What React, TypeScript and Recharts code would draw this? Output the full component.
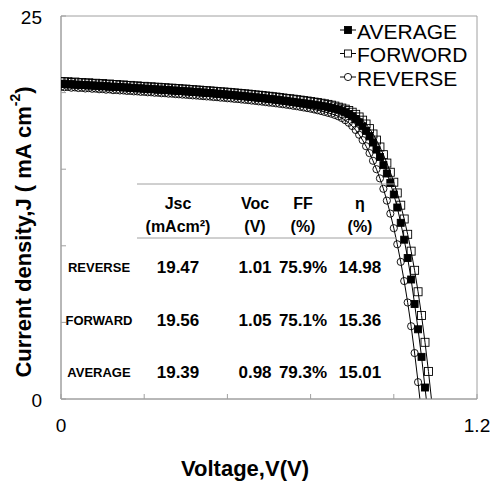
import React from 'react'
import { LineChart, Line, XAxis, YAxis, ReferenceArea } from 'recharts'

const FONT = '"Liberation Sans", Arial, sans-serif'
const AXIS_GREY = '#a0a0a0'

// voltage steps (V)
const volt = [
  0.0, 0.01, 0.02, 0.03, 0.04, 0.05, 0.06, 0.07, 0.08, 0.09,
  0.1, 0.11, 0.12, 0.13, 0.14, 0.15, 0.16, 0.17, 0.18, 0.19,
  0.2, 0.21, 0.22, 0.23, 0.24, 0.25, 0.26, 0.27, 0.28, 0.29,
  0.3, 0.31, 0.32, 0.33, 0.34, 0.35, 0.36, 0.37, 0.38, 0.39,
  0.4, 0.41, 0.42, 0.43, 0.44, 0.45, 0.46, 0.47, 0.48, 0.49,
  0.5, 0.51, 0.52, 0.53, 0.54, 0.55, 0.56, 0.57, 0.58, 0.59,
  0.6, 0.61, 0.62, 0.63, 0.64, 0.65, 0.66, 0.67, 0.68, 0.69,
  0.7, 0.71, 0.72, 0.73, 0.74, 0.75, 0.76, 0.77, 0.78, 0.79,
  0.8, 0.81, 0.82, 0.83, 0.84, 0.85, 0.86, 0.87, 0.88, 0.89,
  0.9, 0.91, 0.92, 0.93, 0.94, 0.95, 0.96, 0.97, 0.98, 0.99,
  1.0, 1.01, 1.02, 1.03, 1.04, 1.05, 1.06, 1.07,
]

// current density (mA cm-2)
const averageJ = [
  20.56, 20.58, 20.53, 20.55, 20.51, 20.52, 20.49, 20.5, 20.46, 20.47,
  20.44, 20.45, 20.41, 20.42, 20.38, 20.39, 20.36, 20.37, 20.33, 20.34,
  20.3, 20.31, 20.27, 20.28, 20.25, 20.25, 20.22, 20.22, 20.19, 20.2,
  20.16, 20.17, 20.13, 20.14, 20.1, 20.11, 20.07, 20.08, 20.04, 20.05,
  20.01, 20.01, 19.98, 19.97, 19.95, 19.93, 19.91, 19.89, 19.87, 19.85,
  19.83, 19.8, 19.79, 19.76, 19.74, 19.72, 19.69, 19.67, 19.64, 19.62,
  19.59, 19.57, 19.54, 19.51, 19.48, 19.45, 19.42, 19.39, 19.36, 19.33,
  19.3, 19.27, 19.24, 19.21, 19.17, 19.14, 19.1, 19.05, 19.0, 18.95,
  18.9, 18.82, 18.72, 18.6, 18.46, 18.28, 18.06, 17.8, 17.5, 17.14,
  16.74, 16.28, 15.8, 15.27, 14.72, 14.1, 13.35, 12.5, 11.5, 10.4,
  9.2, 7.8, 6.2, 4.55, 2.75, 0.75, -1.3, null,
]
const forwardJ = [
  20.72, 20.7, 20.71, 20.66, 20.69, 20.64, 20.66, 20.62, 20.64, 20.6,
  20.61, 20.57, 20.59, 20.54, 20.56, 20.52, 20.53, 20.49, 20.5, 20.46,
  20.47, 20.43, 20.44, 20.4, 20.41, 20.37, 20.38, 20.35, 20.35, 20.32,
  20.32, 20.29, 20.29, 20.26, 20.26, 20.23, 20.23, 20.2, 20.19, 20.17,
  20.16, 20.14, 20.12, 20.11, 20.09, 20.07, 20.05, 20.04, 20.02, 20.0,
  19.98, 19.96, 19.94, 19.92, 19.9, 19.88, 19.85, 19.83, 19.81, 19.78,
  19.76, 19.73, 19.71, 19.68, 19.65, 19.62, 19.6, 19.57, 19.54, 19.51,
  19.48, 19.45, 19.42, 19.38, 19.35, 19.31, 19.27, 19.23, 19.18, 19.12,
  19.05, 18.99, 18.92, 18.83, 18.72, 18.58, 18.41, 18.2, 17.95, 17.65,
  17.3, 16.9, 16.45, 15.95, 15.4, 14.8, 14.15, 13.45, 12.65, 11.75,
  10.75, 9.65, 8.4, 7.0, 5.45, 3.7, 1.8, -0.3,
]
const reverseJ = [
  20.38, 20.35, 20.37, 20.32, 20.34, 20.3, 20.31, 20.27, 20.29, 20.25,
  20.26, 20.22, 20.23, 20.19, 20.21, 20.16, 20.17, 20.14, 20.14, 20.11,
  20.11, 20.08, 20.08, 20.05, 20.05, 20.02, 20.02, 19.99, 19.99, 19.96,
  19.96, 19.93, 19.93, 19.9, 19.89, 19.87, 19.86, 19.84, 19.82, 19.81,
  19.79, 19.77, 19.75, 19.74, 19.71, 19.7, 19.67, 19.66, 19.63, 19.62,
  19.59, 19.58, 19.55, 19.53, 19.51, 19.48, 19.46, 19.43, 19.41, 19.38,
  19.35, 19.33, 19.3, 19.27, 19.24, 19.21, 19.18, 19.14, 19.11, 19.07,
  19.03, 18.99, 18.95, 18.9, 18.85, 18.8, 18.74, 18.68, 18.62, 18.54,
  18.45, 18.34, 18.2, 18.03, 17.82, 17.56, 17.25, 16.9, 16.5, 16.05,
  15.55, 15.0, 14.4, 13.72, 12.95, 12.1, 11.15, 10.1, 8.95, 7.7,
  6.3, 4.75, 3.0, 1.1, -1.0, null, null, null,
]

const xTicks = [0, 0.24, 0.48, 0.72, 0.96, 1.2]
const xLabels = ['0', '', '', '', '', '1.2']
const yTicks = [0, 5, 10, 15, 20, 25]
const yLabels = ['0', '', '', '', '', '25']

const seriesNames = ['AVERAGE', 'FORWORD', 'REVERSE']

// inset table
const tableHeads = [['Jsc', '(mAcm²)'], ['Voc', '(V)'], ['FF', '(%)'], ['η', '(%)']]
const tableRows = ['REVERSE', 'FORWARD', 'AVERAGE']
const jscVals = ['19.47', '19.56', '19.39']
const vocVals = ['1.01', '1.05', '0.98']
const ffVals = ['75.9%', '75.1%', '79.3%']
const etaVals = ['14.98', '15.36', '15.01']

const data = volt.map((v, i) => ({
  v,
  avg: averageJ[i],
  fwd: forwardJ[i],
  rev: reverseJ[i],
}))

function makeDot(kind: string) {
  return (p: any) => {
    const { cx, cy, index } = p
    if (cx == null || cy == null || p.value == null) return <g key={index} />
    if (kind === 'circle') {
      return <circle key={index} cx={cx} cy={cy} r={3.6} fill="none" stroke="#000" strokeWidth={0.9} />
    }
    const s = kind === 'filled' ? 7 : 8
    return (
      <rect
        key={index}
        x={cx - s / 2}
        y={cy - s / 2}
        width={s}
        height={s}
        fill={kind === 'filled' ? '#000' : 'none'}
        stroke="#000"
        strokeWidth={0.9}
      />
    )
  }
}

const XTick = (p: any) => {
  const { x, y, index } = p
  return (
    <g>
      <line x1={x} y1={y} x2={x} y2={y - 5} stroke={AXIS_GREY} />
      <text x={x} y={y + 26} textAnchor="middle" dominantBaseline="central" fontSize={19} fontFamily={FONT} fill="#000">
        {xLabels[index]}
      </text>
    </g>
  )
}

const YTick = (p: any) => {
  const { x, y, index } = p
  return (
    <g>
      <line x1={x} y1={y} x2={x + 5} y2={y} stroke={AXIS_GREY} />
      <text x={x - 19} y={y + 1} textAnchor="end" dominantBaseline="central" fontSize={19} fontFamily={FONT} fill="#000">
        {yLabels[index]}
      </text>
    </g>
  )
}

function LegendMark({ kind, x, y }: { kind: string; x: number; y: number }) {
  return (
    <g>
      <line x1={x - 8} y1={y} x2={x + 8} y2={y} stroke="#000" strokeWidth={1} />
      {kind === 'circle' ? (
        <circle cx={x} cy={y} r={3.6} fill="#fff" stroke="#000" strokeWidth={0.9} />
      ) : (
        <rect
          x={x - 3.5}
          y={y - 3.5}
          width={7}
          height={7}
          fill={kind === 'filled' ? '#000' : '#fff'}
          stroke="#000"
          strokeWidth={0.9}
        />
      )}
    </g>
  )
}

const colX = [178, 255, 303, 360]
const rowY = [267, 320, 372]
const dotKinds = ['filled', 'open', 'circle']

export default function App() {
  return (
    <div style={{ position: 'absolute', left: 0, top: 0, width: 495, height: 481, background: '#fff' }}>
      <LineChart width={495} height={481} data={data} margin={{ top: 16, right: 18, bottom: 42, left: 16 }}>
        <XAxis
          dataKey="v"
          type="number"
          domain={[0, 1.2]}
          ticks={xTicks}
          allowDataOverflow
          stroke={AXIS_GREY}
          tickLine={false}
          tickSize={0}
          tickMargin={0}
          height={40}
          tick={XTick}
          interval={0}
        />
        <YAxis
          domain={[0, 25]}
          ticks={yTicks}
          allowDataOverflow
          stroke={AXIS_GREY}
          tickLine={false}
          tickSize={0}
          tickMargin={0}
          width={45}
          tick={YTick}
          interval={0}
        />
        <ReferenceArea x1={0} x2={1.2} y1={0} y2={25} fill="none" stroke={AXIS_GREY} strokeWidth={1} />
        <Line dataKey="avg" name="AVERAGE" stroke="#000" strokeWidth={1} dot={makeDot('filled')} isAnimationActive={false} />
        <Line dataKey="fwd" name="FORWORD" stroke="#000" strokeWidth={1} dot={makeDot('open')} isAnimationActive={false} />
        <Line dataKey="rev" name="REVERSE" stroke="#000" strokeWidth={1} dot={makeDot('circle')} isAnimationActive={false} />
      </LineChart>

      <svg width={495} height={481} style={{ position: 'absolute', left: 0, top: 0, pointerEvents: 'none' }}>
        {/* legend */}
        {seriesNames.map((n, i) => (
          <g key={n}>
            <LegendMark kind={dotKinds[i]} x={348} y={30 + i * 23.5} />
            <text x={357} y={31 + i * 23.5} dominantBaseline="central" fontSize={21} fontFamily={FONT} fill="#000">
              {n}
            </text>
          </g>
        ))}

        {/* axis titles */}
        <text x={245} y={468} textAnchor="middle" dominantBaseline="central" fontSize={22} fontWeight="bold" fontFamily={FONT}>
          Voltage,V(V)
        </text>
        <text
          transform="translate(23,232) rotate(-90)"
          textAnchor="middle"
          dominantBaseline="central"
          fontSize={22}
          fontWeight="bold"
          fontFamily={FONT}
        >
          Current density,J ( mA cm<tspan fontSize={14} dy={-8}>-2</tspan>
          <tspan dy={8}>)</tspan>
        </text>

        {/* inset table */}
        <line x1={137} y1={184} x2={395} y2={184} stroke={AXIS_GREY} />
        <line x1={137} y1={238} x2={397} y2={238} stroke={AXIS_GREY} />
        {tableHeads.map((h, i) => (
          <g key={i} fontSize={16} fontWeight="bold" fontFamily={FONT}>
            <text x={colX[i]} y={203} textAnchor="middle" dominantBaseline="central">{h[0]}</text>
            <text x={colX[i]} y={226} textAnchor="middle" dominantBaseline="central">{h[1]}</text>
          </g>
        ))}
        {tableRows.map((r, i) => (
          <g key={r} fontWeight="bold" fontFamily={FONT}>
            <text x={99} y={rowY[i]} textAnchor="middle" dominantBaseline="central" fontSize={13}>{r}</text>
            <text x={colX[0]} y={rowY[i]} textAnchor="middle" dominantBaseline="central" fontSize={17}>{jscVals[i]}</text>
            <text x={colX[1]} y={rowY[i]} textAnchor="middle" dominantBaseline="central" fontSize={17}>{vocVals[i]}</text>
            <text x={colX[2]} y={rowY[i]} textAnchor="middle" dominantBaseline="central" fontSize={17}>{ffVals[i]}</text>
            <text x={colX[3]} y={rowY[i]} textAnchor="middle" dominantBaseline="central" fontSize={17}>{etaVals[i]}</text>
          </g>
        ))}
      </svg>
    </div>
  )
}
